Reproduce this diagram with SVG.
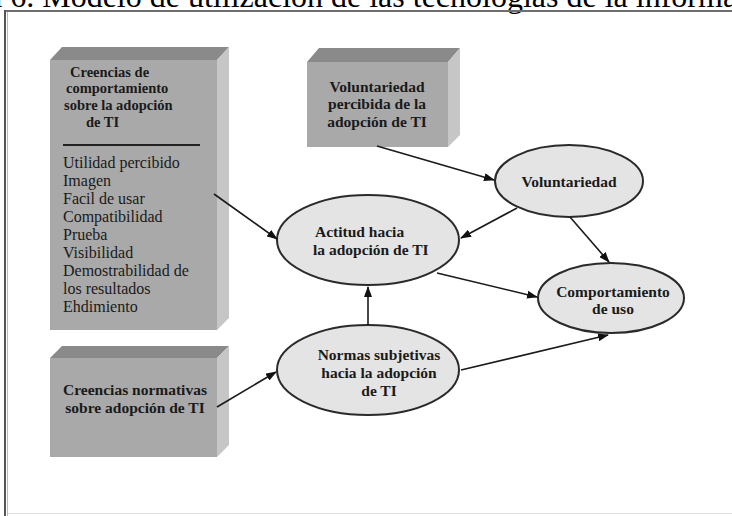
<svg xmlns="http://www.w3.org/2000/svg" width="732" height="516" viewBox="0 0 732 516">
<defs>
<marker id="ah" markerUnits="userSpaceOnUse" markerWidth="11" markerHeight="8" refX="10" refY="4" orient="auto">
<path d="M0,0 L11,4 L0,8 z" fill="#111"/>
</marker>
</defs>
<style>
.front{fill:#a9a9a9}
.top{fill:#8a8a8a}
.side{fill:#c6c6c6}
.ell{fill:#e4e4e4;stroke:#2a2a2a;stroke-width:2}
.t{font-family:"Liberation Serif","Times New Roman",serif;font-weight:bold;fill:#1a1a1a;font-size:15.5px}
.tb{font-family:"Liberation Serif","Times New Roman",serif;font-weight:bold;fill:#1a1a1a;font-size:14.5px}
.li{font-family:"Liberation Serif","Times New Roman",serif;fill:#1a1a1a;font-size:16px}
.con{stroke:#1a1a1a;stroke-width:1.6;fill:none;marker-end:url(#ah)}
</style>
<rect width="732" height="516" fill="#ffffff"/>
<text x="-12" y="7" font-family="Liberation Serif, Times New Roman, serif" font-size="32" fill="#000">a 6. Modelo de utilización de las tecnologías de la informa</text>
<g id="frame">
<line x1="5" y1="11" x2="732" y2="11" stroke="#6e6e6e" stroke-width="2"/>
<line x1="5" y1="10" x2="5" y2="516" stroke="#555" stroke-width="2"/>
<line x1="7.5" y1="12" x2="7.5" y2="516" stroke="#bbb" stroke-width="1"/>
<line x1="8" y1="513.5" x2="732" y2="513.5" stroke="#e2e2e2" stroke-width="1"/>
</g>
<g id="box-creencias-comportamiento">
<rect class="front" x="50" y="60" width="167" height="270"/>
<polygon class="top" points="50,60 62,47 229,47 217,60"/>
<polygon class="side" points="217,60 229,47 229,318 217,330"/>
<text class="tb" x="70" y="77">Creencias de</text>
<text class="tb" x="66" y="93">comportamiento</text>
<text class="tb" x="64" y="110">sobre la adopción</text>
<text class="tb" x="86" y="127">de TI</text>
<line x1="63" y1="145" x2="200" y2="145" stroke="#222" stroke-width="2"/>
<text class="li" x="63" y="168">Utilidad percibido</text>
<text class="li" x="63" y="186">Imagen</text>
<text class="li" x="63" y="204">Facil de usar</text>
<text class="li" x="63" y="222">Compatibilidad</text>
<text class="li" x="63" y="240">Prueba</text>
<text class="li" x="63" y="258">Visibilidad</text>
<text class="li" x="63" y="276">Demostrabilidad de</text>
<text class="li" x="63" y="294">los resultados</text>
<text class="li" x="63" y="312">Ehdimiento</text>
</g>
<g id="box-voluntariedad-percibida">
<rect class="front" x="307" y="62" width="141" height="85"/>
<polygon class="top" points="307,62 319,48 460,48 448,62"/>
<polygon class="side" points="448,62 460,48 460,135 448,147"/>
<text class="t" x="377" y="92" text-anchor="middle">Voluntariedad</text>
<text class="t" x="377" y="109" text-anchor="middle">percibida de la</text>
<text class="t" x="377" y="127" text-anchor="middle">adopción de TI</text>
</g>
<g id="box-creencias-normativas">
<rect class="front" x="50" y="358" width="167" height="99"/>
<polygon class="top" points="50,358 62,346 229,346 217,358"/>
<polygon class="side" points="217,358 229,346 229,445 217,457"/>
<text class="t" x="135" y="395" text-anchor="middle">Creencias normativas</text>
<text class="t" x="135" y="413" text-anchor="middle">sobre adopción de TI</text>
</g>
<g id="ell-actitud">
<ellipse class="ell" cx="368" cy="240" rx="91" ry="45"/>
<text class="t" x="315" y="237">Actitud hacia</text>
<text class="t" x="313" y="255">la adopción de TI</text>
</g>
<g id="ell-voluntariedad">
<ellipse class="ell" cx="569" cy="181" rx="74" ry="36"/>
<text class="t" x="569" y="187" text-anchor="middle">Voluntariedad</text>
</g>
<g id="ell-comportamiento">
<ellipse class="ell" cx="611" cy="298" rx="73" ry="35"/>
<text class="t" x="613" y="297" text-anchor="middle">Comportamiento</text>
<text class="t" x="613" y="314" text-anchor="middle">de uso</text>
</g>
<g id="ell-normas">
<ellipse class="ell" cx="368" cy="370" rx="91" ry="45"/>
<text class="t" x="379" y="360" text-anchor="middle">Normas subjetivas</text>
<text class="t" x="379" y="378" text-anchor="middle">hacia la adopción</text>
<text class="t" x="379" y="396" text-anchor="middle">de TI</text>
</g>
<g id="connectors">
<line class="con" x1="214" y1="194" x2="277" y2="239"/>
<line class="con" x1="377" y1="146" x2="494" y2="180"/>
<line class="con" x1="517" y1="208" x2="461" y2="238"/>
<line class="con" x1="570" y1="217" x2="609" y2="262"/>
<line class="con" x1="437" y1="273" x2="537" y2="297"/>
<line class="con" x1="368" y1="325" x2="368" y2="287"/>
<line class="con" x1="217" y1="407" x2="276" y2="372"/>
<line class="con" x1="461" y1="370" x2="608" y2="335"/>
</g>
</svg>
